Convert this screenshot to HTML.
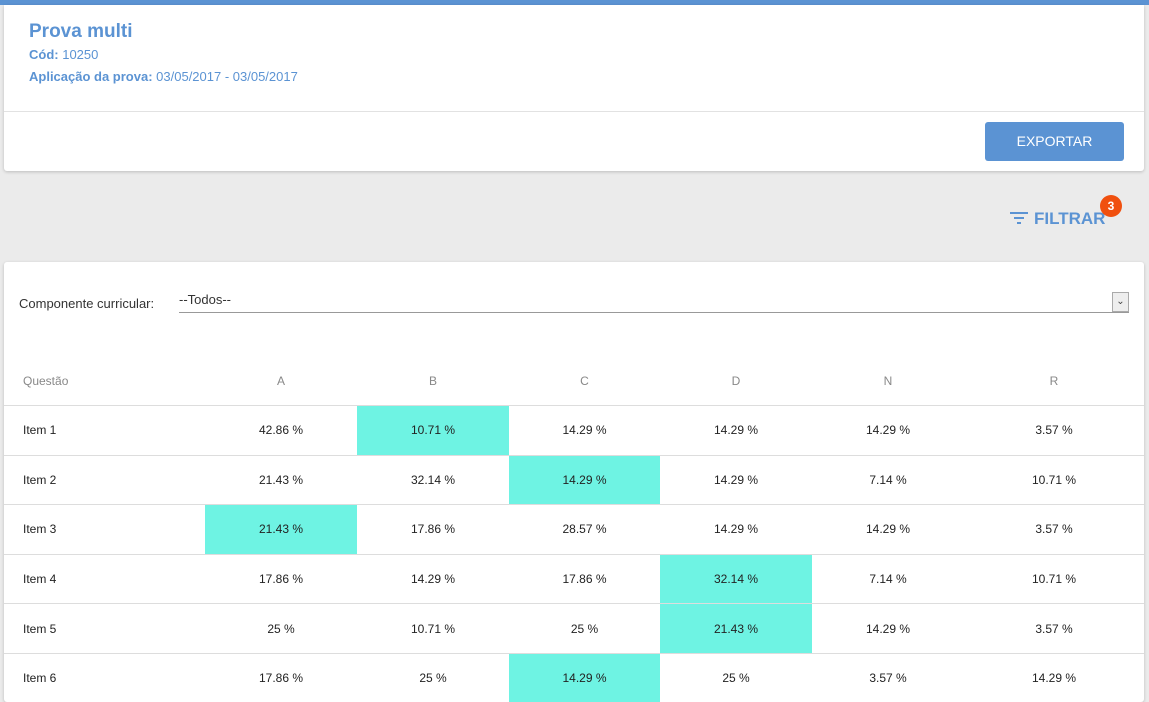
<!DOCTYPE html>
<html><head><meta charset="utf-8"><style>
body{margin:0;width:1149px;height:682px;overflow:hidden;background:#ebebeb;font-family:"Liberation Sans",sans-serif;position:relative}
.topbar{position:absolute;left:0;top:0;width:1149px;height:5px;background:#5b93d3}
.card1{position:absolute;left:4px;top:5px;width:1140px;height:166px;background:#fff;box-shadow:0 1px 3px rgba(0,0,0,.2);border-radius:0 0 3px 3px}
.title{position:absolute;left:25px;top:16px;font-size:19px;font-weight:bold;color:#5b93d3}
.sub{position:absolute;left:25px;font-size:13px;color:#5b93d3}
.sub b{font-weight:bold}
.sep{position:absolute;left:0;top:106px;width:1140px;height:1px;background:#e2e2e2}
.btn{position:absolute;left:981px;top:117px;width:139px;height:39px;background:#5b93d3;border-radius:3px;color:#fff;font-size:14px;text-align:center;line-height:39px}
.filtrar{position:absolute;left:1010px;top:209px;color:#5b93d3;font-weight:bold;font-size:17px}
.badge{position:absolute;left:1100px;top:195px;width:22px;height:22px;border-radius:11px;background:#f0500f;color:#fff;font-size:12px;font-weight:bold;text-align:center;line-height:22px}
.card2{position:absolute;left:4px;top:262px;width:1140px;height:440px;background:#fff;box-shadow:0 1px 3px rgba(0,0,0,.2);border-radius:3px;overflow:hidden}
.lbl{position:absolute;left:15px;top:34px;font-size:13px;color:#333}
.sel{position:absolute;left:175px;top:30px;width:950px;height:20px;border-bottom:1px solid #999;font-size:13px;color:#333}
.selbtn{position:absolute;right:0;top:0;width:15px;height:18px;border:1px solid #aaa;background:#eee;font-size:10px;text-align:center;line-height:18px;color:#444}
table{position:absolute;left:0;top:95px;border-collapse:collapse;width:1140px;table-layout:fixed;font-size:12px;color:#222}
th{font-weight:normal;color:#888;height:48px;padding:0;text-align:center}
td{height:48.6px;text-align:center;border-top:1px solid #ddd;padding:0}
td:first-child,th:first-child{text-align:left;padding-left:19px}
td.h{background:#6ef3e3}
</style></head><body>
<div class="topbar"></div>
<div class="card1">
<div class="title">Prova multi</div>
<div class="sub" style="top:42px"><b>Cód:</b> 10250</div>
<div class="sub" style="top:64px"><b>Aplicação da prova:</b> 03/05/2017 - 03/05/2017</div>
<div class="sep"></div>
<div class="btn">EXPORTAR</div>
</div>
<div class="filtrar"><svg width="18" height="14" style="vertical-align:-1px;margin-right:6px"><rect x="0" y="1" width="18" height="2" fill="#5b93d3"/><rect x="4" y="6" width="10" height="2" fill="#5b93d3"/><rect x="7" y="11" width="4" height="2" fill="#5b93d3"/></svg>FILTRAR</div>
<div class="badge">3</div>
<div class="card2">
<div class="lbl">Componente curricular:</div>
<div class="sel">--Todos--<div class="selbtn">&#8964;</div></div>
<table>
<colgroup><col style="width:201px"><col style="width:152px"><col style="width:152px"><col style="width:151px"><col style="width:152px"><col style="width:152px"><col style="width:180px"></colgroup>
<thead><tr><th>Questão</th><th>A</th><th>B</th><th>C</th><th>D</th><th>N</th><th>R</th></tr></thead>
<tbody>
<tr><td>Item 1</td><td>42.86 %</td><td class="h">10.71 %</td><td>14.29 %</td><td>14.29 %</td><td>14.29 %</td><td>3.57 %</td></tr>
<tr><td>Item 2</td><td>21.43 %</td><td>32.14 %</td><td class="h">14.29 %</td><td>14.29 %</td><td>7.14 %</td><td>10.71 %</td></tr>
<tr><td>Item 3</td><td class="h">21.43 %</td><td>17.86 %</td><td>28.57 %</td><td>14.29 %</td><td>14.29 %</td><td>3.57 %</td></tr>
<tr><td>Item 4</td><td>17.86 %</td><td>14.29 %</td><td>17.86 %</td><td class="h">32.14 %</td><td>7.14 %</td><td>10.71 %</td></tr>
<tr><td>Item 5</td><td>25 %</td><td>10.71 %</td><td>25 %</td><td class="h">21.43 %</td><td>14.29 %</td><td>3.57 %</td></tr>
<tr><td>Item 6</td><td>17.86 %</td><td>25 %</td><td class="h">14.29 %</td><td>25 %</td><td>3.57 %</td><td>14.29 %</td></tr>
</tbody></table>
</div>
</body></html>
